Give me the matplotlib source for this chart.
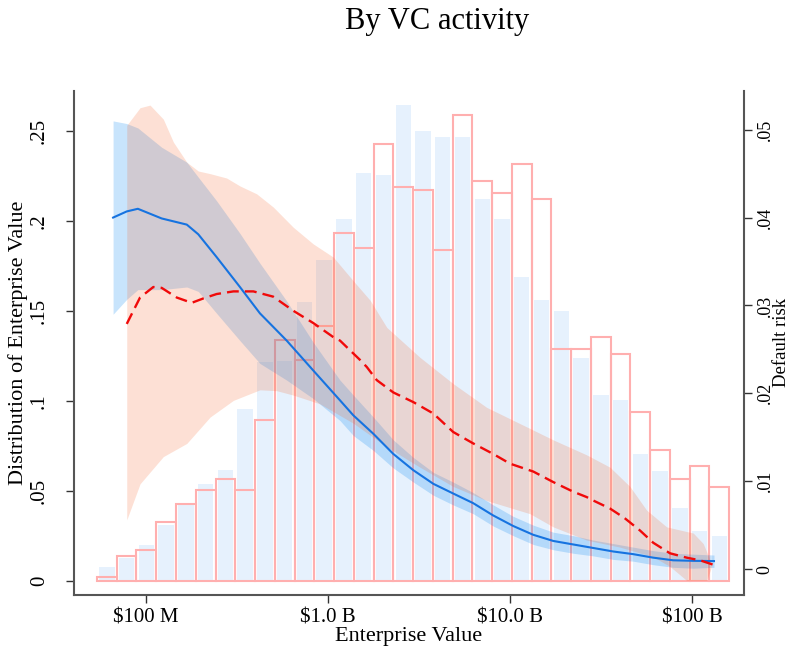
import numpy as np
import matplotlib
matplotlib.use("Agg")
import matplotlib.pyplot as plt
from matplotlib.ticker import FixedLocator, FixedFormatter, NullLocator

plt.rcParams['font.family'] = ['Liberation Serif', 'DejaVu Serif']

# ---------------- data ----------------
# histogram bins in ln(Enterprise Value, $)
bin_start_ln = 17.8
bin_width_ln = 0.25
n_bins = 32

# density of ln(EV), group shown as outlined red bars
hist_red = [0.0024, 0.0139, 0.0172, 0.0329, 0.0427, 0.0504, 0.0569, 0.0504,
            0.0892, 0.1336, 0.1225, 0.1417, 0.1931, 0.1850, 0.2426, 0.2186,
            0.2171, 0.1835, 0.2587, 0.2219, 0.2155, 0.2315, 0.2123, 0.1290,
            0.1290, 0.1354, 0.1258, 0.0938, 0.0730, 0.0569, 0.0637, 0.0523]
# density of ln(EV), group shown as filled light-blue bars
hist_blue = [0.0076, 0.0129, 0.0200, 0.0310, 0.0420, 0.0538, 0.0615, 0.0953,
             0.1215, 0.1220, 0.1547, 0.1780, 0.2012, 0.2267, 0.2256, 0.2644,
             0.2500, 0.2463, 0.2467, 0.2123, 0.2012, 0.1685, 0.1558, 0.1497,
             0.1236, 0.1031, 0.1003, 0.0704, 0.0610, 0.0406, 0.0277, 0.0249]

# blue (solid) default-risk curve: log10(EV) and risk
blue_log_ev = [7.819, 7.894, 7.955, 8.086, 8.224, 8.287, 8.388, 8.516, 8.626,
               8.773, 8.919, 9.066, 9.139, 9.249, 9.359, 9.469, 9.579, 9.688,
               9.798, 9.908, 10.018, 10.128, 10.238, 10.348, 10.458, 10.568,
               10.677, 10.787, 10.897, 11.007, 11.121]
blue_risk = [0.0400, 0.0407, 0.0410, 0.0399, 0.0392, 0.0381, 0.0355, 0.0321,
             0.0291, 0.0260, 0.0226, 0.0192, 0.0175, 0.0154, 0.0131, 0.01125,
             0.0097, 0.0086, 0.0075, 0.0061, 0.0049, 0.0039, 0.0032, 0.0028,
             0.0024, 0.0020, 0.0017, 0.0013, 0.0010, 0.00094, 0.00091]
blue_upper = [0.0510, 0.0507, 0.0502, 0.0480, 0.0463, 0.0446, 0.0419, 0.0382,
              0.0348, 0.0305, 0.0258, 0.0215, 0.0198, 0.0173, 0.0147, 0.0127,
              0.0110, 0.0099, 0.0087, 0.0073, 0.0060, 0.0050, 0.0042, 0.0038,
              0.0033, 0.0029, 0.0025, 0.0021, 0.0018, 0.0017, 0.0016]
blue_lower = [0.0290, 0.0307, 0.0318, 0.0318, 0.0321, 0.0316, 0.0291, 0.0260,
              0.0234, 0.0215, 0.0194, 0.0169, 0.0152, 0.0135, 0.0115, 0.0099,
              0.0084, 0.0073, 0.0063, 0.0049, 0.0038, 0.0028, 0.0022, 0.0018,
              0.0015, 0.0011, 0.0009, 0.0005, 0.0002, 0.0001, 0.0002]

# red (dashed) default-risk curve
red_log_ev = [7.894, 7.967, 8.040, 8.086, 8.169, 8.251, 8.315, 8.388, 8.480,
              8.590, 8.699, 8.809, 8.919, 9.029, 9.066, 9.176, 9.213, 9.268,
              9.359, 9.469, 9.579, 9.688, 9.798, 9.908, 10.000, 10.128, 10.238,
              10.348, 10.421, 10.458, 10.549, 10.630, 10.714, 10.787, 10.879,
              10.971, 11.044, 11.117]
red_risk = [0.0279, 0.0309, 0.0321, 0.0320, 0.0309, 0.0303, 0.0308, 0.0313,
            0.0316, 0.0316, 0.0310, 0.0294, 0.0280, 0.0264, 0.0260, 0.0238,
            0.0230, 0.0215, 0.0201, 0.0190, 0.0177, 0.0156, 0.0143, 0.0131,
            0.0120, 0.0111, 0.0099, 0.0088, 0.0082, 0.0078, 0.0069, 0.0058,
            0.0044, 0.0030, 0.0018, 0.0013, 0.0010, 0.0005]

red_up_log_ev = [7.894, 7.967, 8.022, 8.095, 8.150, 8.224, 8.287, 8.352, 8.443,
                 8.516, 8.608, 8.699, 8.809, 8.919, 9.029, 9.139, 9.231, 9.323,
                 9.505, 9.688, 9.872, 10.110, 10.238, 10.421, 10.549, 10.659,
                 10.751, 10.861, 11.007, 11.062, 11.108]
red_upper = [0.0505, 0.0525, 0.0528, 0.0512, 0.0486, 0.0463, 0.0453, 0.0450,
             0.0445, 0.0436, 0.0427, 0.0412, 0.0389, 0.0370, 0.0355, 0.0328,
             0.0306, 0.0275, 0.0241, 0.0211, 0.0184, 0.0160, 0.0147, 0.0130,
             0.0116, 0.0094, 0.0067, 0.0048, 0.0041, 0.0029, 0.0006]
red_lo_log_ev = [7.894, 7.967, 8.095, 8.224, 8.352, 8.480, 8.626, 8.718, 8.809,
                 8.956, 9.139, 9.323, 9.505, 9.688, 9.872, 10.110, 10.238,
                 10.421, 10.604, 10.787, 10.879, 10.971, 11.081, 11.108]
red_lower = [0.0056, 0.0097, 0.0128, 0.0143, 0.0173, 0.0192, 0.0204, 0.0203,
             0.0198, 0.0188, 0.0166, 0.0139, 0.0116, 0.0094, 0.0078, 0.0063,
             0.0048, 0.0033, 0.0025, 0.0014, 0.0003, -0.0013, -0.0013, 0.0003]

x_tick_vals = [1e8, 1e9, 1e10, 1e11]
x_tick_labels = ['\\$100 M', '\\$1.0 B', '\\$10.0 B', '\\$100 B']
left_tick_vals = [0, 0.05, 0.10, 0.15, 0.20, 0.25]
left_tick_labels = ['0', '.05', '.1', '.15', '.2', '.25']
right_tick_vals = [0, 0.01, 0.02, 0.03, 0.04, 0.05]
right_tick_labels = ['0', '.01', '.02', '.03', '.04', '.05']

# ---------------- figure ----------------
fig = plt.figure(figsize=(7.92, 6.54), dpi=100)
ax = fig.add_axes([0.0934, 0.0902, 0.8460, 0.7706])
ax.set_xscale('log')

edges_ln = bin_start_ln + bin_width_ln * np.arange(n_bins + 1)
left_ln = edges_ln[:-1]

# blue filled bars (slightly narrower, white gaps)
b_left = np.exp(left_ln + 0.11 * bin_width_ln)
b_right = np.exp(left_ln + 0.89 * bin_width_ln)
ax.bar(b_left, hist_blue, width=b_right - b_left, align='edge',
       color='#E6F1FD', edgecolor='none', zorder=1)

# red outlined bars
r_left = np.exp(left_ln)
r_right = np.exp(left_ln + bin_width_ln)
ax.bar(r_left, hist_red, width=r_right - r_left, align='edge',
       fill=False, edgecolor='#FFAFAF', linewidth=1.5, zorder=2)

ax.set_xlim(10 ** 7.604, 10 ** 11.286)
ax.set_ylim(-0.00776, 0.272)

ax2 = ax.twinx()
ax2.set_ylim(-0.00295, 0.0544)

bx = 10 ** np.array(blue_log_ev)
ax2.fill_between(bx, blue_lower, blue_upper, color=(0.02, 0.52, 0.95),
                 alpha=0.22, linewidth=0, zorder=1)
rux = 10 ** np.array(red_up_log_ev)
rlx = 10 ** np.array(red_lo_log_ev)
grid = np.union1d(rux, rlx)
grid = grid[(grid >= max(rux.min(), rlx.min())) & (grid <= min(rux.max(), rlx.max()))]
up_i = np.interp(np.log10(grid), red_up_log_ev, red_upper)
lo_i = np.interp(np.log10(grid), red_lo_log_ev, red_lower)
ax2.fill_between(grid, lo_i, up_i, color=(0.96, 0.40, 0.18),
                 alpha=0.20, linewidth=0, zorder=2)

ax2.plot(bx, blue_risk, color='#1673E0', linewidth=1.5, zorder=4)
ax2.plot(10 ** np.array(red_log_ev), red_risk, color='#F00A0A',
         linewidth=1.7, dashes=(5.0, 2.6), zorder=5)

# ---------------- axes styling ----------------
spine_col = '#555555'
for a in (ax, ax2):
    a.spines['top'].set_visible(False)
ax.spines['right'].set_visible(False)
ax2.spines['left'].set_visible(False)
ax2.spines['bottom'].set_visible(False)
for s in (ax.spines['left'], ax.spines['bottom'], ax2.spines['right']):
    s.set_color(spine_col)
    s.set_linewidth(1.5)

ax.xaxis.set_major_locator(FixedLocator(x_tick_vals))
ax.xaxis.set_major_formatter(FixedFormatter(x_tick_labels))
ax.xaxis.set_minor_locator(NullLocator())
ax.yaxis.set_major_locator(FixedLocator(left_tick_vals))
ax.yaxis.set_major_formatter(FixedFormatter(left_tick_labels))
ax2.yaxis.set_major_locator(FixedLocator(right_tick_vals))
ax2.yaxis.set_major_formatter(FixedFormatter(right_tick_labels))
ax2.yaxis.set_minor_locator(NullLocator())
ax.yaxis.set_minor_locator(NullLocator())

ax.tick_params(axis='x', direction='out', length=6, width=1, color='#333333',
               labelsize=15, pad=4)
ax.tick_params(axis='y', direction='out', length=6, width=1, color='#333333',
               labelsize=15, pad=12, labelrotation=90)
ax2.tick_params(axis='y', direction='out', length=6, width=1, color='#333333',
                labelsize=13, pad=3, labelrotation=90)
for lab in ax.get_yticklabels():
    lab.set_va('center')
for lab in ax2.get_yticklabels():
    lab.set_va('center')

fig.text(18 / 792, 1 - 343 / 654, 'Distribution of Enterprise Value', rotation=90,
         ha='center', va='center', fontsize=16)
fig.text(782 / 792, 1 - 342 / 654, 'Default risk', rotation=90,
         ha='center', va='center', fontsize=13.5)
fig.text(409 / 792, 1 - 637 / 654, 'Enterprise Value', ha='center', va='center',
         fontsize=16)
fig.text(437 / 792, 1 - 22 / 654, 'By VC activity', ha='center', va='center',
         fontsize=22)

fig.savefig('out.png', dpi=100)
